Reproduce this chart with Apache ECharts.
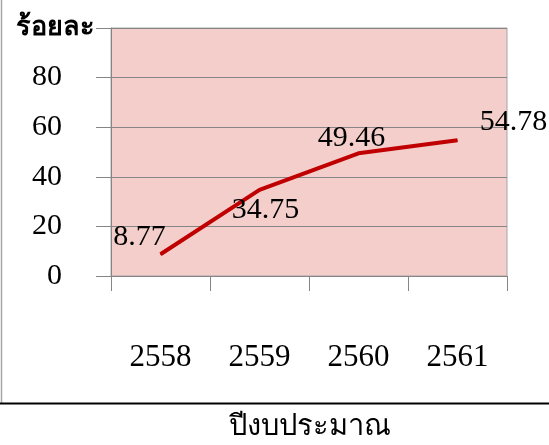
<!DOCTYPE html>
<html>
<head>
<meta charset="utf-8">
<script src="https://cdn.jsdelivr.net/npm/echarts@6/dist/echarts.min.js"></script>
<style>
html,body{margin:0;padding:0;background:#fff;}
#chart{width:549px;height:445px;}
</style>
</head>
<body>
<div id="chart"></div>
<script>
const categories = ['2558', '2559', '2560', '2561'];
const values = [8.77, 34.75, 49.46, 54.78];
const yTicks = [0, 20, 40, 60, 80, 100];
const yAxisName = 'ร้อยละ';
const xAxisTitle = 'ปีงบประมาณ';

const labelOffsets = [[-21, -17], [6, 20], [-7, -15], [56, -18]];
const serif = '"Liberation Serif", "DejaVu Serif", serif';

const chart = echarts.init(document.getElementById('chart'));
chart.setOption({
  animation: false,
  backgroundColor: '#ffffff',
  grid: { left: 111, right: 42, top: 28, bottom: 169, show: true, backgroundColor: '#F3CECA', borderColor: '#A6A6A6', borderWidth: 1 },
  title: {
    text: xAxisTitle, left: 305, top: 408, textAlign: 'center',
    textStyle: { fontFamily: serif, fontSize: 29, fontWeight: 'normal', color: '#000' }
  },
  xAxis: {
    type: 'category', data: categories, boundaryGap: true,
    axisLine: { lineStyle: { color: '#868686', width: 1 } },
    axisTick: { show: true, length: 15, interval: 0, lineStyle: { color: '#868686' } },
    axisLabel: { margin: 66, fontFamily: serif, fontSize: 31, color: '#000' }
  },
  yAxis: {
    type: 'value', min: yTicks[0], max: yTicks[yTicks.length - 1], interval: 20,
    name: yAxisName, nameLocation: 'end', nameGap: 0,
    nameTextStyle: { fontFamily: serif, fontSize: 27, fontWeight: 'bold', color: '#000', align: 'right', verticalAlign: 'middle', padding: [0, 16, 0, 0] },
    axisLine: { show: true, lineStyle: { color: '#868686', width: 1 } },
    axisTick: { show: true, length: 15, lineStyle: { color: '#868686' } },
    splitLine: { show: true, lineStyle: { color: '#868686', width: 1 } },
    axisLabel: {
      margin: 49, fontFamily: serif, fontSize: 30, color: '#000',
      formatter: v => (v === 100 ? '' : String(v))
    }
  },
  graphic: [
    { type: 'line', shape: { x1: 1.5, y1: 0, x2: 1.5, y2: 403 }, style: { stroke: '#A6A6A6', lineWidth: 1.5 }, z: 10 },
    { type: 'line', shape: { x1: 0, y1: 403.5, x2: 549, y2: 403.5 }, style: { stroke: '#000', lineWidth: 2 }, z: 10 }
  ],
  series: [{
    type: 'line',
    data: values.map((v, i) => ({
      value: v,
      label: { offset: labelOffsets[i] }
    })),
    symbol: 'circle', symbolSize: 1,
    itemStyle: { color: '#C00000' },
    lineStyle: { color: '#C00000', width: 4 },
    label: {
      show: true, position: 'inside', align: 'center', verticalAlign: 'middle',
      fontFamily: serif, fontSize: 30, color: '#000',
      formatter: p => p.value.toFixed(2)
    }
  }]
});
</script>
</body>
</html>
